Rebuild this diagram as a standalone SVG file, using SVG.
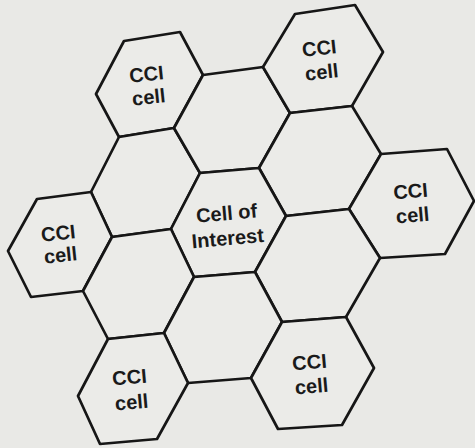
<svg xmlns="http://www.w3.org/2000/svg" width="475" height="448" viewBox="0 0 475 448">
<style>
.bg{fill:#e9e9e6}
.hex{fill:#ebebe8;stroke:#161616;stroke-width:2.7;stroke-linejoin:round}
.lbl{font-family:"Liberation Sans",Arial,sans-serif;font-weight:bold;font-size:20px;fill:#1a1a1a;text-anchor:middle}
</style>
<rect class="bg" x="0" y="0" width="475" height="448"/>
<g id="cells">
<g id="cci-top-left">
<polygon class="hex" points="124,41 180,32 203,75 174,128 119,137 96,94"/>
<text class="lbl" transform="rotate(-6 148 90)"><tspan x="148" y="81">CCI</tspan><tspan x="148" y="104">cell</tspan></text>
</g>
<g id="cell-a">
<polygon class="hex" points="119,137 174,128 200,173 171,229 112,237 91,192"/>
</g>
<g id="cell-top-mid">
<polygon class="hex" points="203,75 263,67 290,113 259,168 200,173 174,128"/>
</g>
<g id="cci-top-right">
<polygon class="hex" points="295,14 355,5 383,52 352,106 290,113 263,67"/>
<text class="lbl" transform="rotate(-6 321 65)"><tspan x="321" y="55">CCI</tspan><tspan x="321" y="79">cell</tspan></text>
</g>
<g id="cell-b">
<polygon class="hex" points="290,113 352,106 381,154 349,209 286,216 259,168"/>
</g>
<g id="cci-right">
<polygon class="hex" points="381,154 447,149 474,201 445,254 380,258 349,209"/>
<text class="lbl" transform="rotate(-5 412 208)"><tspan x="412" y="198">CCI</tspan><tspan x="412" y="222">cell</tspan></text>
</g>
<g id="cell-of-interest">
<polygon class="hex" points="200,173 259,168 286,216 255,272 194,277 171,229"/>
<text class="lbl" font-size="21" transform="rotate(-5 228 230)"><tspan x="228" y="220">Cell of</tspan><tspan x="227" y="245">Interest</tspan></text>
</g>
<g id="cci-left">
<polygon class="hex" points="37,199 91,192 112,237 83,291 31,297 8,251"/>
<text class="lbl" transform="rotate(-6 60 250)"><tspan x="60" y="240">CCI</tspan><tspan x="60" y="262">cell</tspan></text>
</g>
<g id="cell-c">
<polygon class="hex" points="112,237 171,229 194,277 164,333 108,339 83,291"/>
</g>
<g id="cell-d">
<polygon class="hex" points="286,216 349,209 380,258 346,317 282,322 255,272"/>
</g>
<g id="cell-e">
<polygon class="hex" points="194,277 255,272 282,322 251,378 188,383 164,333"/>
</g>
<g id="cci-bottom-left">
<polygon class="hex" points="108,339 164,333 188,383 157,439 100,444 78,396"/>
<text class="lbl" transform="rotate(-5 131 395)"><tspan x="131" y="384">CCI</tspan><tspan x="131" y="409">cell</tspan></text>
</g>
<g id="cci-bottom-right">
<polygon class="hex" points="282,322 346,317 374,368 342,425 278,429 251,378"/>
<text class="lbl" transform="rotate(-5 311 380)"><tspan x="311" y="369">CCI</tspan><tspan x="311" y="393">cell</tspan></text>
</g>
</g>
<g id="connectors"/>
</svg>
